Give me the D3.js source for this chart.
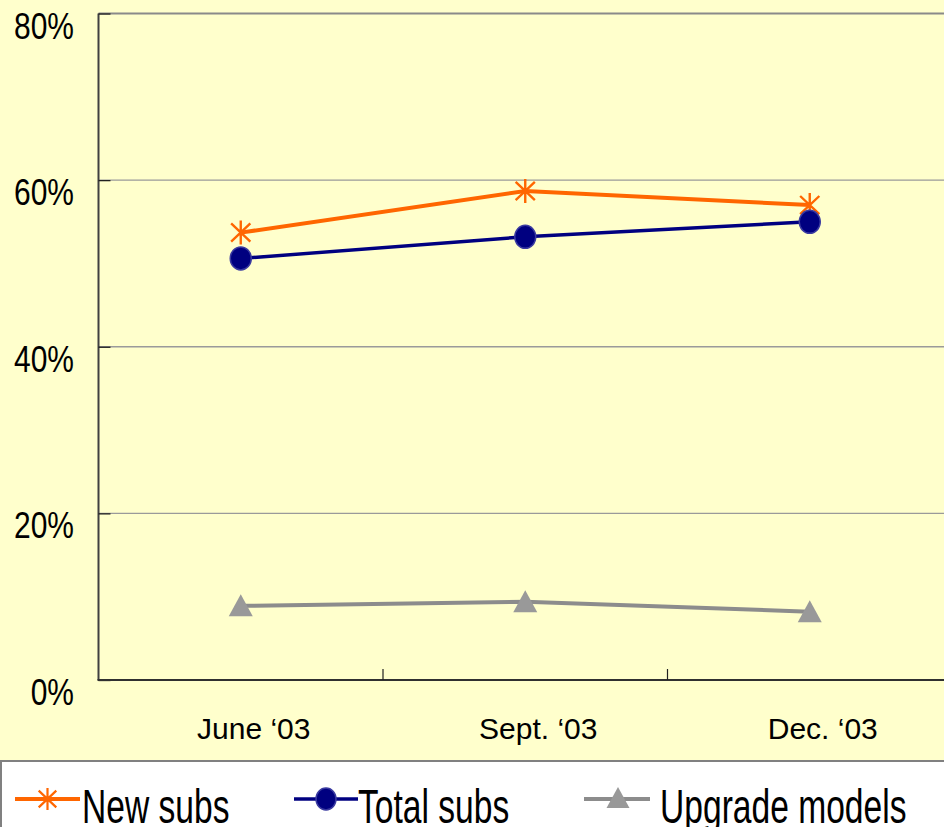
<!DOCTYPE html>
<html>
<head>
<meta charset="utf-8">
<script src="https://cdn.jsdelivr.net/npm/d3@7"></script>
<style>
  html, body { margin: 0; padding: 0; background: #FFFFCC; overflow: hidden; }
  svg { display: block; }
  text { font-family: "Liberation Sans", Arial, sans-serif; fill: #000; }
</style>
</head>
<body>
<svg id="chart" width="944" height="827"></svg>
<script>
// Quarter labels along the x axis
const categories = ["June \u201803", "Sept. \u201803", "Dec. \u201803"];

// Share of subscribers (%) per series
const newSubs = [53.7, 58.7, 57.0];
const totalSubs = [50.6, 53.2, 55.0];
const upgradeModels = [8.9, 9.4, 8.2];

// Y axis ticks
const yTicks = [0, 20, 40, 60, 80];

const svg = d3.select("#chart");
const W = 944, H = 827;

// page background
svg.append("rect").attr("width", W).attr("height", H).attr("fill", "#FFFFCC");

const plot = { left: 98.5, top: 13.5, bottom: 680, right: 952 };

const x = d3.scaleBand().domain(categories).range([plot.left, plot.right]).padding(0);
const cx = d => x(d) + x.bandwidth() / 2;
const y = d3.scaleLinear().domain([0, 80]).range([plot.bottom, plot.top]);

// gridlines
svg.append("g").selectAll("line")
  .data(yTicks.filter(t => t > 0 && t < 80))
  .join("line")
  .attr("x1", plot.left).attr("x2", plot.right)
  .attr("y1", d => y(d)).attr("y2", d => y(d))
  .attr("stroke", "#9a9a9a").attr("stroke-width", 1.3);

// top border of the plot area
svg.append("line")
  .attr("x1", plot.left).attr("x2", plot.right)
  .attr("y1", y(80)).attr("y2", y(80))
  .attr("stroke", "#8a8a8a").attr("stroke-width", 2.2);

// y axis: line, inward ticks and labels
const yAxis = d3.axisRight(y).tickValues(yTicks).tickSize(12).tickFormat("");
const gy = svg.append("g").attr("transform", `translate(${plot.left},0)`).call(yAxis);
gy.select(".domain").attr("stroke", "#404040").attr("stroke-width", 2).attr("d", `M0,${plot.top}V${plot.bottom}`);
gy.selectAll(".tick line").attr("stroke", "#202020").attr("stroke-width", 1.3);

svg.append("g").selectAll("text")
  .data(yTicks)
  .join("text")
  .attr("text-anchor", "end")
  .attr("font-size", 37)
  .attr("transform", d => `translate(74,${y(d) + 25}) scale(0.81,1)`)
  .text(d => d + "%");

// x axis: line, inward ticks between categories, labels
svg.append("line")
  .attr("x1", plot.left - 1).attr("x2", plot.right)
  .attr("y1", plot.bottom).attr("y2", plot.bottom)
  .attr("stroke", "#303030").attr("stroke-width", 2);

svg.append("g").selectAll("line")
  .data(categories.slice(1))
  .join("line")
  .attr("x1", d => x(d)).attr("x2", d => x(d))
  .attr("y1", plot.bottom).attr("y2", plot.bottom - 11)
  .attr("stroke", "#202020").attr("stroke-width", 1.2);

svg.append("g").selectAll("text")
  .data(categories)
  .join("text")
  .attr("text-anchor", "middle")
  .attr("font-size", 30)
  .attr("x", d => cx(d) + 13)
  .attr("y", 739)
  .text(d => d);

// marker shapes
function starPath(r) {
  const d = r * 0.8;
  return `M0,${-r}V${r}M${-d},${-d * 0.95}L${d},${d * 0.95}M${-d},${d * 0.95}L${d},${-d * 0.95}`;
}
function triPath(w, h) {
  return `M0,${-h / 2 - 1}L${w / 2},${h / 2}L${-w / 2},${h / 2}Z`;
}

const line = d3.line().x(d => cx(d.c)).y(d => y(d.v));
const pts = arr => categories.map((c, i) => ({ c, v: arr[i] }));

// New subs
svg.append("path").datum(pts(newSubs)).attr("d", line)
  .attr("fill", "none").attr("stroke", "#FF6600").attr("stroke-width", 4);
svg.append("g").selectAll("path").data(pts(newSubs)).join("path")
  .attr("transform", d => `translate(${cx(d.c)},${y(d.v)})`)
  .attr("d", starPath(12)).attr("stroke", "#FF6600").attr("stroke-width", 2.4).attr("fill", "none");

// Total subs
svg.append("path").datum(pts(totalSubs)).attr("d", line)
  .attr("fill", "none").attr("stroke", "#000080").attr("stroke-width", 3.5);
svg.append("g").selectAll("ellipse").data(pts(totalSubs)).join("ellipse")
  .attr("cx", d => cx(d.c)).attr("cy", d => y(d.v))
  .attr("rx", 10.5).attr("ry", 11.5)
  .attr("fill", "#000080").attr("stroke", "#3a3aa0").attr("stroke-width", 1.5);

// Upgrade models
svg.append("path").datum(pts(upgradeModels)).attr("d", line)
  .attr("fill", "none").attr("stroke", "#8c8c8c").attr("stroke-width", 4);
svg.append("g").selectAll("path").data(pts(upgradeModels)).join("path")
  .attr("transform", d => `translate(${cx(d.c)},${y(d.v)})`)
  .attr("d", triPath(24, 21)).attr("fill", "#999999");

// legend
const lg = svg.append("g");
lg.append("rect").attr("x", 1).attr("y", 761).attr("width", 960).attr("height", 80)
  .attr("fill", "#FFFFFF").attr("stroke", "#808080").attr("stroke-width", 2);

const legendItems = [
  { name: "New subs", x0: 15, x1: 80, tx: 82, type: "star", color: "#FF6600" },
  { name: "Total subs", x0: 294, x1: 358, tx: 358, type: "circle", color: "#000080" },
  { name: "Upgrade models", x0: 584, x1: 650, tx: 660, type: "tri", color: "#8c8c8c" }
];
const ly = 799;
legendItems.forEach(it => {
  lg.append("line").attr("x1", it.x0).attr("x2", it.x1).attr("y1", ly).attr("y2", ly)
    .attr("stroke", it.color).attr("stroke-width", it.type === "circle" ? 3.5 : 4);
  const mx = (it.x0 + it.x1) / 2;
  if (it.type === "star") {
    lg.append("path").attr("transform", `translate(${mx},${ly})`).attr("d", starPath(11))
      .attr("stroke", it.color).attr("stroke-width", 2.2).attr("fill", "none");
  } else if (it.type === "circle") {
    lg.append("ellipse").attr("cx", mx).attr("cy", ly).attr("rx", 10).attr("ry", 11)
      .attr("fill", "#000080").attr("stroke", "#3a3aa0").attr("stroke-width", 1.5);
  } else {
    lg.append("path").attr("transform", `translate(${mx + 1},${ly - 1})`).attr("d", triPath(23, 20))
      .attr("fill", "#999999");
  }
  lg.append("text").attr("font-size", 48)
    .attr("transform", `translate(${it.tx},823) scale(0.7,1)`)
    .text(it.name);
});
</script>
</body>
</html>
